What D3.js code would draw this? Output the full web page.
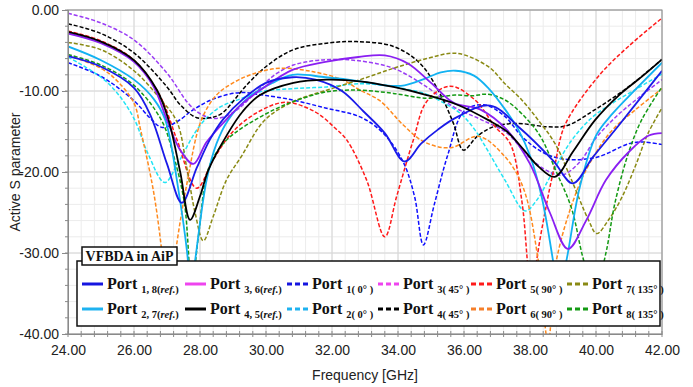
<!DOCTYPE html>
<html><head><meta charset="utf-8">
<script src="https://cdn.jsdelivr.net/npm/d3@7"></script>
<style>
html,body{margin:0;padding:0;background:#fff;}
svg{display:block;}
</style>
</head><body>
<svg id="chart" width="693" height="387"></svg>
<script>
// ---------- DATA ----------
const xTicks = [24, 26, 28, 30, 32, 34, 36, 38, 40, 42];
const yTicks = [0, -10, -20, -30, -40];

// Port 1,8 (ref.) solid blue
const fP18 = [24, 25, 26, 26.5, 27, 27.45, 27.9, 28.3, 28.7, 29.3, 30, 30.8, 31.5, 32.3, 32.95, 33.6, 34.2, 34.7, 35.2, 35.8, 36.8, 37.7, 38.7, 39.3, 39.9, 40.7, 41.4, 42];
const vP18 = [-5.7, -7.0, -9.6, -13.0, -19.0, -23.8, -19.5, -16.0, -13.5, -11.0, -9.0, -8.3, -8.6, -10.0, -12.5, -15.2, -18.7, -16.5, -14.8, -13.2, -11.8, -14.6, -18.6, -21.4, -18.2, -14.2, -10.6, -7.5];
// Port 2,7 (ref.) solid light blue
const fP27 = [24, 25, 26, 26.6, 26.95, 27.33, 27.64, 27.72, 27.85, 28.2, 28.5, 28.85, 29.5, 30.2, 30.8, 31.8, 32.85, 33.6, 34.2, 34.8, 35.3, 35.75, 36.3, 36.75, 37.25, 37.65, 38.0, 38.35, 38.7, 38.85, 39.1, 39.5, 40.0, 40.5, 41.2, 42];
const vP27 = [-4.5, -6.2, -8.6, -11.0, -13.6, -21.8, -31.0, -35.0, -31.0, -21.0, -16.5, -13.6, -10.7, -9.0, -8.0, -8.3, -8.8, -9.3, -9.3, -8.5, -7.7, -7.5, -8.1, -9.7, -12.3, -14.8, -18.0, -23.0, -31.0, -35.0, -31.0, -22.0, -15.5, -12.8, -9.8, -6.5];
// Port 3,6 (ref.) solid purple
const fP36 = [24, 25, 26, 26.6, 27.0, 27.4, 27.8, 28.2, 28.85, 29.3, 29.82, 30.8, 31.8, 32.8, 33.6, 34.3, 35.0, 35.7, 36.5, 37.3, 38.0, 38.6, 39.15, 39.7, 40.3, 41.0, 41.6, 42];
const vP36 = [-2.9, -4.1, -6.4, -9.5, -13.6, -17.3, -19.0, -16.3, -13.3, -11.5, -9.9, -7.4, -6.4, -5.8, -5.6, -6.6, -9.0, -11.5, -12.3, -14.8, -19.0, -25.0, -29.5, -26.0, -21.0, -17.5, -15.5, -15.2];
// Port 4,5 (ref.) solid black
const fP45 = [24, 25, 26, 26.7, 27.05, 27.4, 27.7, 28.0, 28.25, 28.85, 29.3, 29.82, 30.83, 31.84, 32.85, 33.86, 34.87, 35.8, 36.74, 37.3, 37.8, 38.25, 38.75, 39.3, 39.97, 40.7, 41.4, 42];
const vP45 = [-2.7, -3.9, -6.2, -9.9, -13.6, -20.0, -25.9, -23.0, -19.8, -15.2, -12.5, -10.5, -9.0, -8.6, -8.8, -9.5, -10.5, -11.7, -13.6, -15.0, -17.2, -19.3, -20.6, -17.5, -13.6, -10.5, -8.2, -6.1];
// Port 1 (0°) dashed blue
const fP1 = [24, 25, 26, 26.5, 26.85, 27.3, 27.8, 28.4, 29.2, 29.9, 30.8, 31.8, 32.85, 33.55, 34.15, 34.5, 34.77, 35.1, 35.5, 36.0, 36.6, 37.2, 37.8, 38.4, 39.0, 40.0, 41.0, 41.4, 42];
const vP1 = [-6.5, -8.2, -11.2, -13.4, -14.5, -13.8, -12.3, -11.0, -10.2, -10.5, -11.1, -12.1, -13.2, -15.2, -18.7, -23.0, -29.0, -24.0, -18.0, -12.5, -11.7, -13.0, -15.8, -17.6, -18.4, -18.2, -16.5, -16.3, -16.6];
// Port 2 (0°) dashed cyan
const fP2 = [24, 25, 25.5, 26.0, 26.42, 26.93, 27.33, 27.84, 28.14, 28.6, 29.2, 29.82, 30.83, 31.84, 32.85, 33.6, 34.16, 34.8, 35.4, 35.9, 36.33, 36.74, 37.24, 37.85, 38.2, 38.66, 39.26, 39.9, 40.5, 41.2, 42];
const vP2 = [-5.8, -8.3, -10.3, -13.4, -17.7, -21.3, -18.9, -15.2, -13.6, -12.0, -11.0, -10.1, -9.7, -9.5, -9.1, -9.3, -9.7, -10.3, -11.5, -12.8, -14.8, -17.5, -21.0, -24.8, -23.5, -20.2, -16.1, -13.2, -11.5, -9.8, -7.9];
// Port 3 (45°) dashed purple
const fP3 = [24, 25, 26, 27, 27.64, 28.0, 28.44, 28.9, 29.25, 29.8, 30.3, 30.83, 31.6, 32.65, 33.86, 34.87, 35.7, 36.5, 37.3, 38.0, 38.5, 38.96, 39.5, 40.0, 40.6, 41.3, 42];
const vP3 = [-0.4, -1.6, -3.7, -7.8, -11.5, -12.8, -13.4, -12.9, -11.9, -9.7, -7.9, -6.8, -6.2, -6.2, -7.2, -9.5, -12.0, -13.5, -15.2, -18.3, -19.8, -20.4, -18.8, -15.8, -13.2, -10.8, -8.6];
// Port 4 (45°) dashed black
const fP4 = [24, 25, 26, 27, 27.4, 27.9, 28.3, 28.65, 29.45, 30.06, 30.83, 31.84, 32.75, 33.86, 34.67, 35.27, 35.68, 35.98, 36.4, 36.9, 37.6, 38.5, 39.1, 39.97, 40.98, 42];
const vP4 = [-1.7, -2.9, -5.3, -9.5, -11.7, -13.3, -13.3, -12.8, -9.1, -6.8, -4.9, -4.1, -3.9, -4.5, -6.6, -10.3, -14.0, -17.3, -15.6, -14.4, -14.0, -14.4, -14.3, -12.3, -9.5, -6.1];
// Port 5 (90°) dashed red
const fP5 = [24, 25, 26, 26.8, 27.3, 27.9, 28.4, 29.0, 29.8, 30.6, 31.5, 32.1, 32.44, 33.05, 33.6, 33.96, 34.46, 34.87, 35.57, 36.33, 36.94, 37.4, 37.75, 37.92, 38.05, 38.2, 38.5, 38.76, 39.06, 40.07, 40.98, 42];
const vP5 = [-2.6, -3.8, -6.2, -10.7, -16.0, -22.0, -18.5, -15.0, -12.5, -11.4, -12.6, -14.6, -16.0, -21.0, -28.0, -23.0, -16.1, -11.3, -9.4, -11.1, -14.4, -16.5, -23.5, -31.0, -37.0, -31.0, -24.0, -19.0, -14.2, -8.2, -4.5, -1.0];
// Port 6 (90°) dashed orange
const fP6 = [24, 25, 25.5, 26, 26.2, 26.6, 26.88, 27.05, 27.22, 27.6, 28.04, 28.5, 29.0, 29.6, 30.4, 31.4, 32.3, 32.85, 33.45, 34.16, 34.8, 35.6, 36.43, 37.24, 37.8, 38.25, 38.55, 38.8, 39.47, 40.0, 40.5, 41.2, 42];
const vP6 = [-5.6, -7.2, -8.8, -11.5, -14.8, -22.6, -31.0, -37.0, -31.0, -21.5, -13.6, -10.5, -9.0, -7.9, -7.2, -7.6, -8.6, -9.9, -11.2, -14.2, -16.3, -17.0, -15.6, -18.1, -22.0, -30.9, -41.0, -30.9, -21.8, -17.6, -14.8, -12.3, -9.7];
// Port 7 (135°) dashed olive
const fP7 = [24, 25, 26, 26.8, 27.3, 27.6, 27.85, 28.1, 28.4, 28.8, 29.25, 29.96, 30.83, 31.84, 32.85, 33.86, 34.87, 35.78, 36.74, 37.24, 37.75, 38.25, 38.76, 39.26, 39.77, 40.02, 40.4, 40.8, 41.2, 41.58, 42];
const vP7 = [-4.0, -4.9, -7.5, -11.0, -13.8, -19.5, -25.0, -28.5, -25.5, -21.0, -18.1, -13.6, -11.3, -9.9, -8.6, -7.2, -6.0, -5.35, -7.0, -9.1, -11.1, -13.6, -16.5, -21.0, -25.9, -27.6, -25.8, -23.0, -19.2, -15.2, -12.1];
// Port 8 (135°) dashed green
const fP8 = [24, 25, 26, 26.83, 27.2, 27.53, 27.75, 27.95, 28.24, 28.6, 29.05, 29.66, 30.3, 30.83, 31.84, 32.85, 33.86, 34.87, 35.3, 35.73, 36.23, 36.7, 37.24, 37.75, 38.3, 38.8, 39.26, 39.6, 39.95, 40.3, 40.57, 40.98, 41.38, 42];
const vP8 = [-5.5, -6.8, -9.3, -13.6, -18.0, -23.9, -34.0, -28.0, -19.8, -17.0, -15.2, -13.6, -12.2, -11.3, -10.1, -9.9, -10.3, -10.9, -10.7, -10.5, -10.6, -10.4, -11.1, -12.8, -15.5, -20.0, -24.5, -30.5, -35.0, -30.0, -23.9, -17.7, -13.6, -9.5];

// legend labels
const legendSub = ["1, 8", "3, 6", "1", "3", "5", "7", "2, 7", "4, 5", "2", "4", "6", "8"];
const legendTail = ["ref.", "ref.", " 0° ", " 45° ", " 90° ", " 135° ", "ref.", "ref.", " 0° ", " 45° ", " 90° ", " 135° "];

// ---------- CHART ----------
const svg = d3.select("#chart");
const L = 68, R = 662, T = 10, B = 334;
const x = d3.scaleLinear().domain([24, 42]).range([L, R]);
const y = d3.scaleLinear().domain([0, -40]).range([T, B]);

// grid
const minorX = d3.range(24, 42.001, 0.4);
const minorY = d3.range(0, -40.001, -2);
const g = svg.append("g");
g.selectAll(".mx").data(minorX).enter().append("line")
  .attr("x1", d => x(d)).attr("x2", d => x(d)).attr("y1", T).attr("y2", B)
  .attr("stroke", "#ececec").attr("stroke-width", 1);
g.selectAll(".my").data(minorY).enter().append("line")
  .attr("y1", d => y(d)).attr("y2", d => y(d)).attr("x1", L).attr("x2", R)
  .attr("stroke", "#ececec").attr("stroke-width", 1);
g.selectAll(".Mx").data(xTicks).enter().append("line")
  .attr("x1", d => x(d)).attr("x2", d => x(d)).attr("y1", T).attr("y2", B)
  .attr("stroke", "#d6d6d6").attr("stroke-width", 1);
g.selectAll(".My").data(yTicks).enter().append("line")
  .attr("y1", d => y(d)).attr("y2", d => y(d)).attr("x1", L).attr("x2", R)
  .attr("stroke", "#d6d6d6").attr("stroke-width", 1);

// clip
svg.append("defs").append("clipPath").attr("id", "clip")
  .append("rect").attr("x", L).attr("y", T).attr("width", R - L).attr("height", B - T);

const series = [
  {f: fP1, v: vP1, color: "#1010ff", dash: true},
  {f: fP2, v: vP2, color: "#22e4f4", dash: true},
  {f: fP3, v: vP3, color: "#9a3cf5", dash: true},
  {f: fP4, v: vP4, color: "#000000", dash: true},
  {f: fP5, v: vP5, color: "#ff1a1a", dash: true},
  {f: fP6, v: vP6, color: "#ff8a1e", dash: true},
  {f: fP7, v: vP7, color: "#8a8a14", dash: true},
  {f: fP8, v: vP8, color: "#139a13", dash: true},
  {f: fP27, v: vP27, color: "#12b2f2", dash: false},
  {f: fP36, v: vP36, color: "#8a1ff2", dash: false},
  {f: fP18, v: vP18, color: "#1a1ae8", dash: false},
  {f: fP45, v: vP45, color: "#000000", dash: false}
];
const line = d3.line().x(d => x(d[0])).y(d => y(d[1])).curve(d3.curveCatmullRom.alpha(0.5));
const lg = svg.append("g").attr("clip-path", "url(#clip)");
series.forEach(s => {
  lg.append("path").datum(s.f.map((f, i) => [f, s.v[i]]))
    .attr("d", line).attr("fill", "none")
    .attr("stroke", s.color)
    .attr("stroke-width", s.dash ? 1.5 : 1.8)
    .attr("stroke-linejoin", "round")
    .attr("stroke-dasharray", s.dash ? "4,2" : null);
});

// frame
svg.append("rect").attr("x", L).attr("y", T).attr("width", R - L).attr("height", B - T)
  .attr("fill", "none").attr("stroke", "#8a8a8a").attr("stroke-width", 1);

// axes
const fmt = d => d.toFixed(2);
const yAxis = svg.append("g").attr("transform", `translate(${L},0)`)
  .call(d3.axisLeft(y).tickValues(yTicks).tickFormat(fmt).tickSize(6).tickPadding(3));
const xAxis = svg.append("g").attr("transform", `translate(0,${B})`)
  .call(d3.axisBottom(x).tickValues(xTicks).tickFormat(fmt).tickSize(0).tickPadding(11));
[yAxis, xAxis].forEach(a => {
  a.select(".domain").attr("stroke", "#8a8a8a");
  a.selectAll(".tick line").attr("stroke", "#8a8a8a");
  a.selectAll("text").attr("font-family", "'Liberation Sans', Arial, sans-serif")
    .attr("font-size", 14).attr("fill", "#222");
});
// minor ticks
svg.append("g").selectAll("line").data(minorY).enter().append("line")
  .attr("x1", L - 3).attr("x2", L).attr("y1", d => y(d)).attr("y2", d => y(d))
  .attr("stroke", "#8a8a8a");
svg.append("g").selectAll("line").data(minorX).enter().append("line")
  .attr("x1", d => x(d)).attr("x2", d => x(d)).attr("y1", B - 3).attr("y2", B + 3)
  .attr("stroke", "#8a8a8a");

// axis titles
svg.append("text").attr("x", (L + R) / 2).attr("y", 380).attr("text-anchor", "middle")
  .attr("font-family", "'Liberation Sans', Arial, sans-serif").attr("font-size", 14).attr("fill", "#222")
  .text("Frequency [GHz]");
svg.append("text").attr("transform", `translate(20,${(T + B) / 2}) rotate(-90)`)
  .attr("text-anchor", "middle")
  .attr("font-family", "'Liberation Sans', Arial, sans-serif").attr("font-size", 14).attr("fill", "#222")
  .text("Active S parameter");

// legend
const legX = 77, legY = 261, legW = 583, legH = 65;
svg.append("rect").attr("x", legX).attr("y", legY).attr("width", legW).attr("height", legH)
  .attr("fill", "#fff").attr("stroke", "#111").attr("stroke-width", 1.5);
svg.append("rect").attr("x", 82).attr("y", 247).attr("width", 95).attr("height", 18)
  .attr("fill", "#fff").attr("stroke", "#111").attr("stroke-width", 1.5);
svg.append("text").attr("x", 129.5).attr("y", 261).attr("text-anchor", "middle")
  .attr("font-family", "'Liberation Serif', 'DejaVu Serif', serif").attr("font-weight", "bold")
  .attr("font-size", 14).attr("fill", "#111").text("VFBDA in AiP");

const legColors = ["#1515e0", "#ee44ee", "#1515e0", "#ee44ee", "#ff1a1a", "#8a8a14",
                   "#1eb2f0", "#000000", "#1eb2f0", "#000000", "#f57f2a", "#139a13"];
const legDash = [false, false, true, true, true, true, false, false, true, true, true, true];
const colX = [82, 185, 287, 378, 471, 567];
const rowY = [284, 309];
legendSub.forEach((sub, i) => {
  const c = i % 6, r = Math.floor(i / 6);
  const lx = colX[c], ly = rowY[r];
  svg.append("line").attr("x1", lx).attr("x2", lx + 21).attr("y1", ly).attr("y2", ly)
    .attr("stroke", legColors[i]).attr("stroke-width", 3)
    .attr("stroke-dasharray", legDash[i] ? "5,3" : null);
  const t = svg.append("text").attr("x", lx + 25).attr("y", ly + 5)
    .attr("font-family", "'Liberation Serif', 'DejaVu Serif', serif").attr("font-weight", "bold")
    .attr("fill", "#111").attr("font-size", 16);
  t.append("tspan").text("Port ");
  t.append("tspan").attr("font-size", 10.5).attr("dy", 4).text(sub + "(");
  t.append("tspan").attr("font-size", 10.5).attr("font-style", legendTail[i] === "ref." ? "italic" : "normal")
    .text(legendTail[i]);
  t.append("tspan").attr("font-size", 10.5).text(")");
});
</script>
</body></html>
